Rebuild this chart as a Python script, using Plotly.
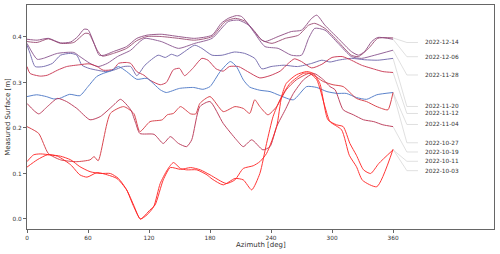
import plotly.graph_objects as go

# ---------------- data ----------------
label_dates = ["2022-12-14", "2022-12-06", "2022-11-28", "2022-11-20", "2022-11-12",
               "2022-11-04", "2022-10-27", "2022-10-19", "2022-10-11", "2022-10-03"]

az_1214 = [0, 10, 21, 33, 46, 57, 61, 69, 74, 85, 98, 108, 118, 132, 149, 165, 182, 195, 205, 214,
           224, 231, 241, 254, 267, 277, 283, 293, 306, 319, 326, 336, 345, 360]
surf_1214 = [0.390, 0.388, 0.396, 0.386, 0.388, 0.408, 0.407, 0.371, 0.358, 0.364, 0.375, 0.392, 0.401,
             0.401, 0.397, 0.393, 0.401, 0.434, 0.441, 0.435, 0.412, 0.393, 0.386, 0.397, 0.404, 0.426,
             0.430, 0.419, 0.390, 0.360, 0.357, 0.375, 0.397, 0.398]

az_1206 = [0, 10, 21, 33, 43, 50, 56, 60, 66, 71, 76, 85, 98, 108, 118, 132, 149, 165, 182, 191, 198,
           206, 211, 221, 229, 234, 247, 260, 270, 280, 285, 293, 306, 319, 326, 332, 339, 345, 360]
surf_1206 = [0.395, 0.393, 0.397, 0.387, 0.389, 0.401, 0.417, 0.416, 0.386, 0.360, 0.360, 0.368, 0.379,
             0.397, 0.404, 0.406, 0.401, 0.397, 0.404, 0.430, 0.441, 0.447, 0.445, 0.419, 0.397, 0.390,
             0.401, 0.412, 0.415, 0.441, 0.448, 0.426, 0.397, 0.368, 0.360, 0.368, 0.390, 0.399, 0.395]

az_1128 = [0, 10, 16, 30, 46, 52, 62, 70, 79, 89, 102, 111, 116, 132, 149, 165, 182, 198, 208, 218, 224,
           234, 247, 260, 270, 277, 283, 293, 306, 319, 329, 342, 360]
surf_1128 = [0.386, 0.351, 0.353, 0.364, 0.366, 0.357, 0.342, 0.335, 0.342, 0.357, 0.371, 0.390, 0.397,
             0.390, 0.375, 0.386, 0.397, 0.434, 0.437, 0.426, 0.408, 0.379, 0.375, 0.360, 0.360, 0.397,
             0.419, 0.415, 0.386, 0.357, 0.353, 0.360, 0.371]

az_1120 = [0, 3, 8, 16, 25, 33, 43, 49, 54, 61, 69, 77, 85, 95, 102, 108, 116, 129, 136, 142, 148, 155,
           165, 172, 182, 192, 204, 214, 224, 231, 240, 253, 266, 280, 290, 298, 306, 319, 332, 345, 360]
surf_1120 = [0.382, 0.364, 0.335, 0.335, 0.342, 0.360, 0.364, 0.360, 0.338, 0.331, 0.327, 0.324, 0.327,
             0.335, 0.335, 0.315, 0.338, 0.360, 0.355, 0.362, 0.358, 0.368, 0.382, 0.375, 0.360, 0.360,
             0.367, 0.364, 0.353, 0.330, 0.335, 0.338, 0.335, 0.342, 0.349, 0.345, 0.349, 0.353, 0.350,
             0.349, 0.353]

az_1112 = [0, 3, 13, 20, 30, 39, 52, 61, 69, 75, 85, 90, 98, 102, 108, 115, 121, 131, 137, 144, 150, 155,
           163, 172, 178, 186, 193, 199, 208, 217, 229, 239, 249, 257, 263, 270, 280, 290, 300, 310, 319,
           329, 342, 350, 360]
surf_1112 = [0.335, 0.320, 0.314, 0.316, 0.327, 0.335, 0.339, 0.341, 0.335, 0.327, 0.329, 0.342, 0.344,
             0.342, 0.324, 0.316, 0.305, 0.295, 0.300, 0.328, 0.331, 0.315, 0.331, 0.353, 0.349, 0.330,
             0.325, 0.335, 0.335, 0.324, 0.310, 0.315, 0.325, 0.342, 0.352, 0.346, 0.332, 0.340, 0.355,
             0.357, 0.349, 0.338, 0.329, 0.324, 0.322]

az_1104 = [0, 9.5, 19, 26, 32, 42, 52, 60, 68.5, 75, 83, 90, 98, 108, 118, 131, 137, 150, 164, 173, 180,
           190, 200, 206, 213, 219, 229, 239, 248, 262, 275, 285, 295, 305, 314, 324, 334, 344, 360]
surf_1104 = [0.269, 0.273, 0.269, 0.264, 0.265, 0.274, 0.271, 0.291, 0.313, 0.320, 0.326, 0.335, 0.324,
             0.307, 0.309, 0.284, 0.278, 0.287, 0.289, 0.285, 0.291, 0.324, 0.346, 0.335, 0.305, 0.290,
             0.283, 0.280, 0.272, 0.262, 0.291, 0.289, 0.280, 0.276, 0.276, 0.267, 0.263, 0.273, 0.278]

az_1027 = [0, 11.5, 21, 33, 49, 62, 66, 70, 82, 95, 105, 111, 121, 133, 138, 144, 151, 161, 166, 170,
           180, 193, 204.5, 212.7, 219, 224, 229, 237, 245.5, 255, 265, 278, 291.5, 301, 311, 324, 334,
           343, 350, 355, 360]
surf_1027 = [0.203, 0.188, 0.144, 0.130, 0.126, 0.130, 0.137, 0.128, 0.232, 0.247, 0.232, 0.192, 0.214,
             0.218, 0.229, 0.232, 0.247, 0.231, 0.231, 0.254, 0.269, 0.236, 0.247, 0.243, 0.232, 0.262,
             0.247, 0.229, 0.247, 0.284, 0.306, 0.320, 0.302, 0.295, 0.291, 0.265, 0.258, 0.248, 0.242,
             0.240, 0.278]

az_1019 = [0, 11.5, 20, 30, 39, 49, 62, 72, 85, 92, 102, 107, 111, 125, 134, 141, 149, 157, 162, 170,
           180, 193, 206, 212.7, 221, 232, 239, 245.5, 254, 262, 272, 282, 291.5, 298, 303, 311, 321, 331,
           341, 350, 360]
surf_1019 = [0.254, 0.231, 0.247, 0.265, 0.258, 0.243, 0.218, 0.225, 0.250, 0.263, 0.240, 0.210, 0.188,
             0.186, 0.166, 0.181, 0.166, 0.159, 0.174, 0.247, 0.258, 0.210, 0.174, 0.159, 0.174, 0.152,
             0.159, 0.203, 0.240, 0.276, 0.306, 0.320, 0.306, 0.291, 0.284, 0.240, 0.229, 0.218, 0.214,
             0.207, 0.203]

az_1011 = [0, 10, 20, 30, 43, 52, 59, 69, 79, 88.5, 98, 105, 111.5, 121, 126, 134, 141, 151, 161, 170.5,
           180, 196, 204.5, 212.7, 222.5, 229, 235.6, 245.5, 250.4, 255, 265, 275, 281.5, 288, 296, 304.5,
           311, 317.6, 324, 331, 338, 346, 360]
surf_1011 = [0.114, 0.130, 0.141, 0.138, 0.119, 0.097, 0.092, 0.102, 0.097, 0.089, 0.064, 0.030, 0.000,
             0.020, 0.031, 0.086, 0.113, 0.109, 0.113, 0.108, 0.097, 0.078, 0.086, 0.111, 0.117, 0.126,
             0.144, 0.203, 0.269, 0.298, 0.317, 0.324, 0.320, 0.298, 0.218, 0.207, 0.203, 0.166, 0.140,
             0.108, 0.100, 0.122, 0.152]

az_1003 = [0, 6.5, 13, 23, 33, 43, 52, 62, 72, 82, 90, 98, 105, 111.5, 118, 124.6, 131, 138, 144, 151,
           157, 167, 177, 182, 193, 204.5, 212.7, 221, 229, 235.6, 242, 248.8, 258.6, 271.7, 278, 285,
           293, 298, 309.4, 317, 324, 330, 344, 360]
surf_1003 = [0.126, 0.141, 0.143, 0.141, 0.138, 0.130, 0.115, 0.104, 0.100, 0.100, 0.089, 0.064, 0.027,
             0.000, 0.009, 0.027, 0.078, 0.108, 0.124, 0.111, 0.108, 0.108, 0.097, 0.088, 0.075, 0.089,
             0.086, 0.064, 0.100, 0.166, 0.225, 0.262, 0.298, 0.320, 0.320, 0.306, 0.247, 0.214, 0.196,
             0.140, 0.115, 0.085, 0.071, 0.153]

x_ticks = [0, 60, 120, 180, 240, 300, 360]
y_ticks = [0.0, 0.1, 0.2, 0.3, 0.4]

# ---------------- styling ----------------
series = [
    (az_1214, surf_1214, "#9a4a72"),
    (az_1206, surf_1206, "#8e4a80"),
    (az_1128, surf_1128, "#8a5690"),
    (az_1120, surf_1120, "#6e64aa"),
    (az_1112, surf_1112, "#c8324e"),
    (az_1104, surf_1104, "#4a76c6"),
    (az_1027, surf_1027, "#d6343e"),
    (az_1019, surf_1019, "#b83252"),
    (az_1011, surf_1011, "#ff2222"),
    (az_1003, surf_1003, "#ff2222"),
]
# vertical placement of the date labels (layout only)
label_y = [0.3879, 0.3567, 0.3165, 0.2473, 0.2319, 0.2077, 0.1675, 0.1473, 0.1268, 0.1062]

FONT = "DejaVu Sans"
fig = go.Figure()

# connectors first (beneath)
for (az, sv, col), ly in zip(series, label_y):
    fig.add_trace(go.Scatter(
        x=[az[-1], 373.6, 384.5], y=[sv[-1], ly, ly], mode="lines",
        line=dict(color="#d2d2d2", width=0.7), hoverinfo="skip", showlegend=False))

for az, sv, col in series:
    fig.add_trace(go.Scatter(
        x=az, y=sv, mode="lines",
        line=dict(color=col, width=1.0, shape="spline", smoothing=0.6),
        opacity=0.9, hoverinfo="skip", showlegend=False))

annotations = []
for d, ly in zip(label_dates, label_y):
    annotations.append(dict(x=389.4, y=ly, xref="x", yref="y", text=d, showarrow=False,
                            xanchor="left", yanchor="middle",
                            font=dict(family=FONT, size=5.8, color="#333333")))
annotations.append(dict(x=0.5, y=-0.072, xref="paper", yref="paper", text="Azimuth [deg]",
                        showarrow=False, xanchor="center", yanchor="middle",
                        font=dict(family=FONT, size=7, color="#333333")))
annotations.append(dict(x=-0.041, y=0.5, xref="paper", yref="paper", text="Measured Surface [m]",
                        showarrow=False, xanchor="center", yanchor="middle", textangle=-90,
                        font=dict(family=FONT, size=7, color="#333333")))

axis_common = dict(showgrid=False, zeroline=False, showline=True, mirror=True,
                   linecolor="#666666", linewidth=1, ticks="outside", ticklen=3,
                   tickcolor="#666666", tickwidth=0.8,
                   tickfont=dict(family=FONT, size=5.8, color="#333333"))

fig.update_layout(
    width=500, height=254,
    margin=dict(l=27, r=6, t=5, b=25),
    paper_bgcolor="white", plot_bgcolor="white",
    xaxis=dict(range=[0, 459.3], tickvals=x_ticks, **axis_common),
    yaxis=dict(range=[-0.022, 0.4703], tickvals=y_ticks, tickformat=".1f", **axis_common),
    annotations=annotations,
    showlegend=False,
)

fig.write_html("out.html", config={"displayModeBar": False},
               post_script="document.body.style.margin='0';document.body.style.padding='0';")
